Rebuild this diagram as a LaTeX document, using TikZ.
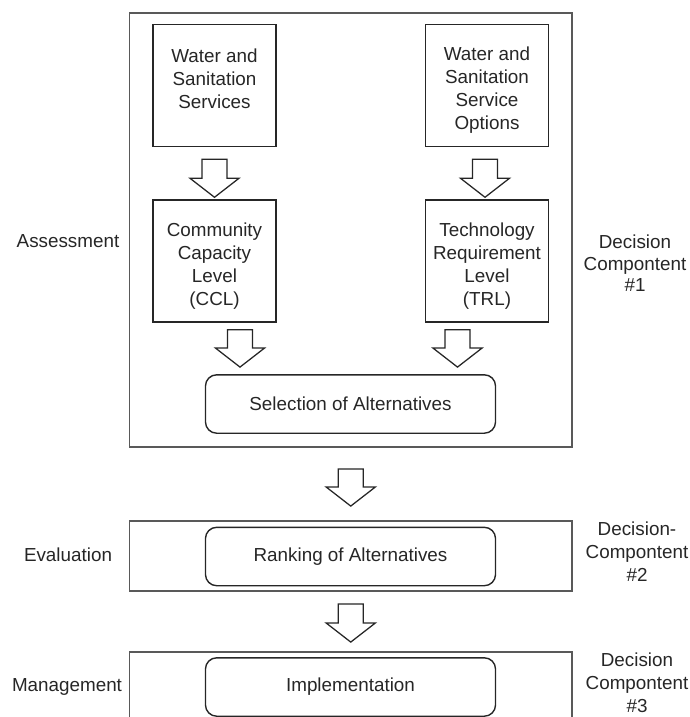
\documentclass[tikz,border=0pt]{standalone}
\usepackage{fontspec}
\setmainfont{Liberation Sans}
\usetikzlibrary{calc}

% hollow block arrow from #1 (top of shaft) down to #2 (tip)
\newcommand{\hollowarrow}[2]{%
  \draw[hollow] let \p1=(#1), \p2=(#2) in
    (\x1-8.9pt,\y1) -- (\x1+8.9pt,\y1) -- (\x1+8.9pt,\y2+13.5pt) -- (\x1+17.4pt,\y2+13.5pt)
    -- (\x1,\y2) -- (\x1-17.4pt,\y2+13.5pt) -- (\x1-8.9pt,\y2+13.5pt) -- cycle;}

\begin{document}
\begin{tikzpicture}[x=0.025cm,y=-0.025cm,
  every node/.style={font=\fontsize{13.4}{16.4}\selectfont, text=black!85},
  frame/.style={draw=black!65, line width=1.3pt, inner sep=0pt, minimum width=11.06cm},
  box/.style={draw=black!85, line width=1pt, inner sep=0pt,
    minimum width=3.075cm, minimum height=3.05cm},
  boxtext/.style={align=center, inner sep=0pt},
  roundbox/.style={draw=black!85, line width=1pt, inner sep=0pt, rounded corners=8pt,
    minimum width=7.25cm, minimum height=1.46cm},
  hollow/.style={draw=black!85, line width=0.9pt, fill=white, line join=miter}]
 \clip (0,0) rectangle (690,717);

 % decision component frames
 \node[frame, minimum height=10.85cm] (assessframe) at (350.75,230) {};
 \node[frame, minimum height=1.75cm] (evalframe) at (350.75,556) {};
 \node[frame, minimum height=1.9cm] (mgmtframe) at (350.75,690) {};

 % assessment
 \node[box] (wss) at (214.5,85.5) {};
 \node[box] (wsso) at (487,85.5) {};
 \node[box] (ccl) at (214.5,261) {};
 \node[box] (trl) at (487,261) {};
 \node[boxtext] (wsstext) at ($(wss)+(0,5)$) {Water and\\Sanitation\\Services\\\phantom{S}};
 \node[boxtext] (wssotext) at ($(wsso)+(0,5)$) {Water and\\Sanitation\\Service\\Options};
 \node[boxtext] (ccltext) at ($(ccl)+(0,5)$) {Community\\Capacity\\Level\\(CCL)};
 \node[boxtext] (trltext) at ($(trl)+(0,5)$) {Technology\\Requirement\\Level\\(TRL)};
 \node[roundbox] (sel) at (350.5,404) {Selection of Alternatives};

 % evaluation and management
 \node[roundbox] (rank) at (350.5,556.5) {Ranking of Alternatives};
 \node[roundbox] (impl) at (350.5,687) {Implementation};

 % arrows
 \hollowarrow{$(wss.south)+(0,12)$}{$(ccl.north)+(0,-2)$}
 \hollowarrow{$(wsso.south)+(-2,12)$}{$(trl.north)+(-2,-2)$}
 \hollowarrow{$(ccl.south)+(25.5,7)$}{$(ccl.south|-sel.north)+(25.5,-7)$}
 \hollowarrow{$(trl.south)+(-29.5,7)$}{$(trl.south|-sel.north)+(-29.5,-7)$}
 \hollowarrow{$(assessframe.south)+(0,21)$}{$(evalframe.north)+(0,-14)$}
 \hollowarrow{$(evalframe.south)+(0,12)$}{$(mgmtframe.north)+(0,-9)$}

 % side labels
 \node (assess) at (68,241) {Assessment};
 \node (evaluation) at (68,555) {Evaluation};
 \node (mgmt) at (67,687) {Management};
 \node[align=center, font=\fontsize{13.4}{15.4}\selectfont] (dc1) at (635,263.5) {Decision\\Compontent\\\#1};
 \node[align=center] (dc2) at (637,552) {Decision-\\Compontent\\\#2};
 \node[align=center] (dc3) at (637,683) {Decision\\Compontent\\\#3};
\end{tikzpicture}
\end{document}
